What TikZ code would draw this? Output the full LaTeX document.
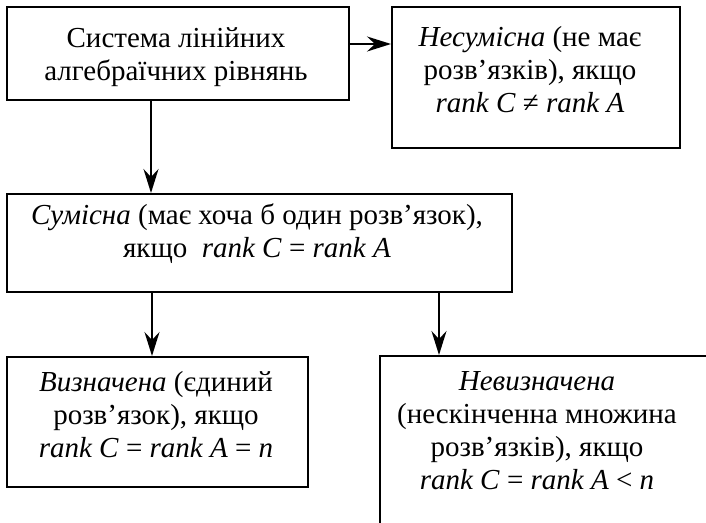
\documentclass[tikz,border=0pt]{standalone}
\usepackage{fontspec}
\setmainfont{Liberation Serif}
\usetikzlibrary{arrows.meta}
\begin{document}
\begin{tikzpicture}[x=1pt,y=1pt,
  box/.style={draw=black,line width=2pt,anchor=north west,inner sep=0pt},
  txt/.style={align=center,inner sep=0pt,font=\fontsize{29}{33}\selectfont},
  arr/.style={line width=2pt,-{Stealth[length=24pt,width=15pt,inset=8pt]}}]
\useasboundingbox (0,0) rectangle (706,-522);
\clip (0,0) rectangle (706,-522);
\fill[white] (0,0) rectangle (706,-522);
% boxes
\node[box,minimum width=342pt,minimum height=93pt] (b1) at (6,-6) {};
\node[box,minimum width=288pt,minimum height=141pt] (b2) at (391,-6) {};
\node[box,minimum width=505pt,minimum height=98pt] (b3) at (6,-193) {};
\node[box,minimum width=301pt,minimum height=130pt] (b4) at (6,-356) {};
\node[box,minimum width=360pt,minimum height=200pt] (b5) at (379,-355) {};
% texts
\node[txt] (t1) at (176,-57) {Система лінійних\\алгебраїчних рівнянь};
\node[txt] (t2) at (530,-70) {\textit{Несумісна} (не має\\розв’язків), якщо\\\textit{rank C} ≠ \textit{rank A}};
\node[txt] (t3) at (257,-234) {\textit{Сумісна} (має хоча б один розв’язок),\\якщо \ \textit{rank C} = \textit{rank A}};
\node[txt] (t4) at (156,-415) {\textit{Визначена} (єдиний\\розв’язок), якщо\\\textit{rank C} = \textit{rank A} = \textit{n}};
\node[txt] (t5) at (537,-431) {\textit{Невизначена}\\(нескінченна множина\\розв’язків), якщо\\\textit{rank C} = \textit{rank A} < \textit{n}};
% connectors
\draw[arr] (b1.east |- 0,-44) -- (b2.west |- 0,-44);
\draw[arr] (b1.south -| 151,0) -- (b3.north -| 151,0);
\draw[arr] (b3.south -| 152,0) -- (b4.north -| 152,0);
\draw[arr] (b3.south -| 439,0) -- (b5.north -| 439,0);
\end{tikzpicture}
\end{document}
